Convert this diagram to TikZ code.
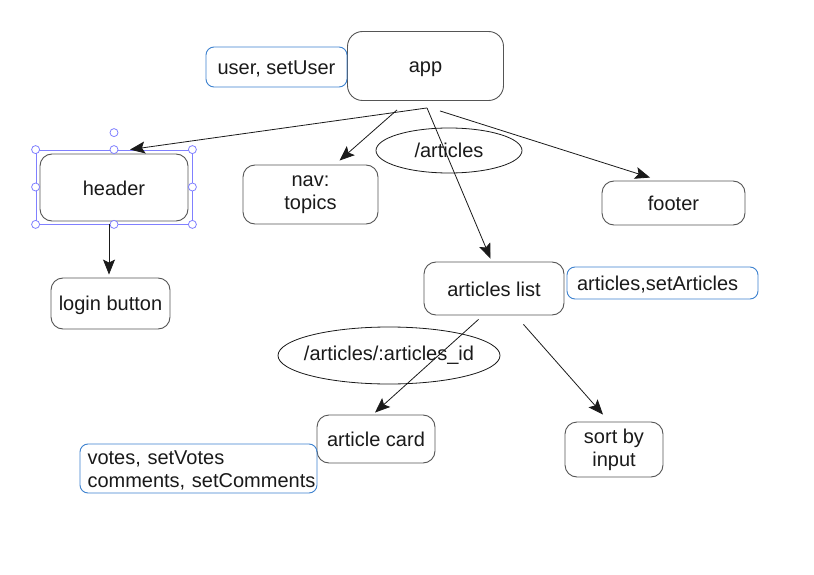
\documentclass[tikz,border=0pt]{standalone}
\usepackage{fontspec}
\setmainfont{Liberation Sans}
\usetikzlibrary{arrows.meta,shapes.geometric}
\definecolor{boxgray}{HTML}{555555}
\definecolor{ink}{HTML}{1A1A1A}
\definecolor{stateblue}{HTML}{3D82CF}
\definecolor{selpurple}{HTML}{8080FF}
\newcommand\tstrut{\rule[-3pt]{0pt}{21pt}}
\hyphenpenalty=10000
\exhyphenpenalty=10000

\begin{document}
\begin{tikzpicture}[x=1pt,y=-1pt,
  every node/.style={font=\fontsize{20}{23}\selectfont,text=ink},
  main node/.style={draw=boxgray,line width=0.9pt,rounded corners=12pt,inner sep=0pt,align=center,
    execute at begin node=\tstrut,execute at end node=\tstrut},
  state node/.style={draw=stateblue,line width=0.9pt,rounded corners=8pt,inner sep=0pt,align=center,
    execute at begin node=\tstrut,execute at end node=\tstrut},
  route/.style={ellipse,draw=ink,line width=0.8pt,inner ysep=0pt,inner xsep=-20pt},
  select/.style={draw=selpurple,line width=0.8pt,inner sep=0pt},
  handle/.style={draw=selpurple,fill=white,line width=0.8pt},
  arrow/.style={draw=ink,line width=0.8pt,-{Stealth[length=15pt,width=12pt,inset=3pt]}}]

    \path[use as bounding box,fill=white] (0,0) rectangle (814,575);

    \node[main node,minimum width=156pt,minimum height=69pt,rounded corners=15pt] at (425.5,66) (app) {app};
    \node[state node,minimum width=141pt,minimum height=40pt] at (276.5,67) (user) {user, setUser};
    \node[main node,minimum width=148pt,minimum height=67pt] at (114,187.5) (header) {header};
    \node[main node,minimum width=135pt,minimum height=59pt] at (310.5,194.5) (nav) {nav:\\topics};
    \node[route,minimum width=146pt,minimum height=45pt] at (449,150.5) (artroute) {/articles};
    \node[main node,minimum width=143pt,minimum height=44pt] at (673.5,203) (footer) {footer};
    \node[main node,minimum width=119pt,minimum height=51pt] at (110.5,303.5) (login) {login button};
    \node[main node,minimum width=140pt,minimum height=53pt] at (494,288.5) (alist) {articles list};
    \node[state node,minimum width=191pt,minimum height=32pt,text width=171pt,inner xsep=10pt,align=left] at (662.5,283) (artstate) {articles,setArticles};
    \node[route,minimum width=222pt,minimum height=57pt] at (389,355.5) (idroute) {/articles/:articles\_id};
    \node[main node,minimum width=118pt,minimum height=48pt] at (376,439) (card) {article card};
    \node[main node,minimum width=98pt,minimum height=55pt] at (614,449.5) (sort) {sort by\\input};
    \node[state node,minimum height=49pt,text width=222pt,inner xsep=7.5pt,align=left] at (198.5,468.5) (cardstate) {votes, setVotes\\\mbox{comments, setComments}};

    % selection frame round header
    \node[select,minimum width=156pt,minimum height=74pt] at (114,187) (sel) {};
    \foreach \a in {north west,north,north east,east,south east,south,south west,west}
        \draw[handle] (sel.\a) circle (4pt);
    \draw[handle] ([yshift=17pt]sel.north) circle (4pt);

    \coordinate (appout) at ([xshift=1.5pt,yshift=-7pt]app.south);

    \draw[arrow] (appout) -- ([xshift=16pt]sel.north);
    \draw[arrow] ([xshift=-28.5pt,yshift=-9pt]app.south) -- ([xshift=29pt,yshift=4pt]nav.north);
    \draw[arrow] (appout) -- ([xshift=-3.5pt,yshift=3pt]alist.north);
    \draw[arrow] ([xshift=14.5pt,yshift=-10pt]app.south) -- ([xshift=-23.5pt,yshift=3pt]footer.north);
    \draw[arrow] ([xshift=-5pt]sel.south) -- ([xshift=-1.5pt,yshift=3pt]login.north);
    \draw[arrow] ([xshift=-15.5pt,yshift=-4pt]alist.south) -- ([xshift=-1pt,yshift=2pt]card.north);
    \draw[arrow] ([xshift=29.5pt,yshift=-9pt]alist.south) -- ([xshift=-11pt,yshift=7pt]sort.north);
\end{tikzpicture}
\end{document}
